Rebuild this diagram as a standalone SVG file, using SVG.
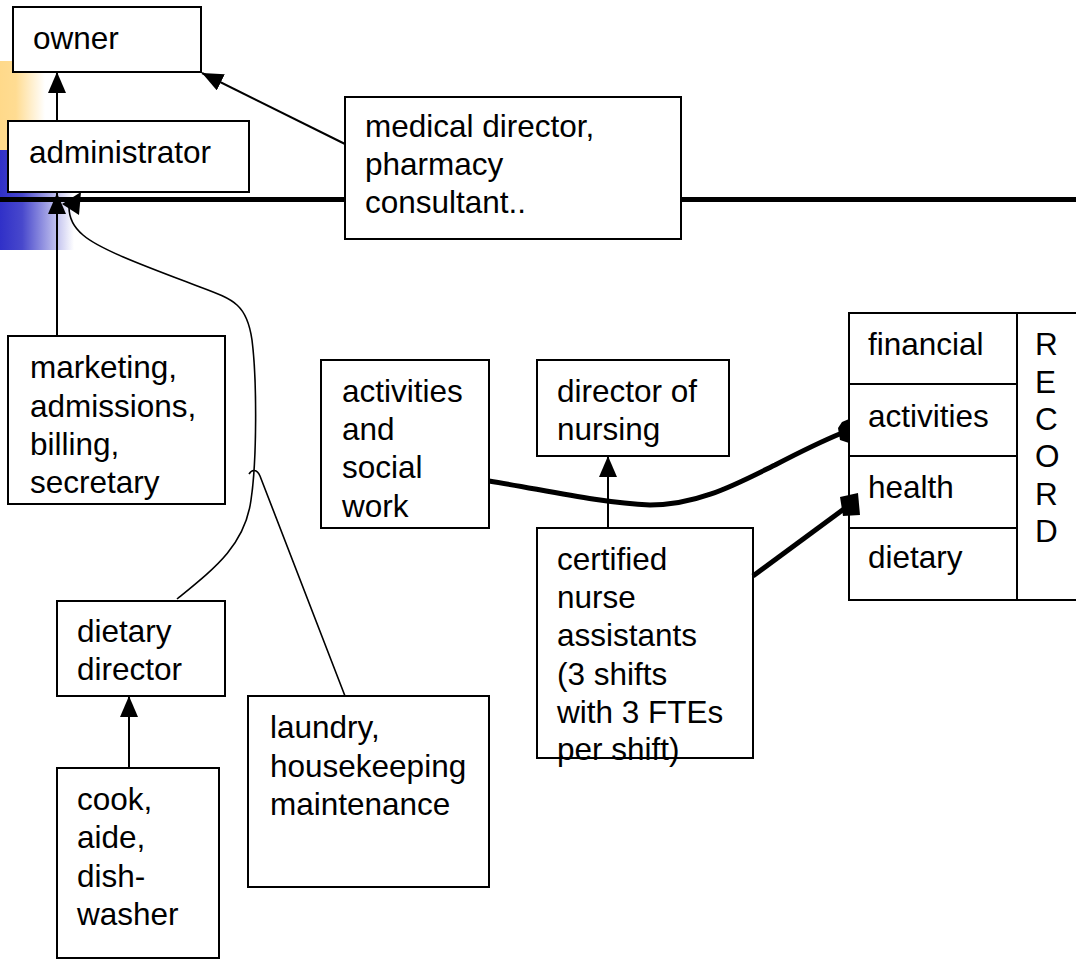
<svg xmlns="http://www.w3.org/2000/svg" width="1076" height="960" viewBox="0 0 1076 960">
<defs>
<linearGradient id="gy" x1="0" y1="0" x2="1" y2="0">
<stop offset="0" stop-color="#FFD98A"/>
<stop offset="0.35" stop-color="#FFDC92"/>
<stop offset="1" stop-color="#FFFFFF"/>
</linearGradient>
<linearGradient id="gb" x1="0" y1="0" x2="1" y2="0">
<stop offset="0" stop-color="#3030C8"/>
<stop offset="0.3" stop-color="#4848CC"/>
<stop offset="1" stop-color="#FFFFFF"/>
</linearGradient>
<marker id="arr" viewBox="0 0 21 18" refX="21" refY="9" markerWidth="21" markerHeight="18" markerUnits="userSpaceOnUse" orient="auto">
<path d="M0,0 L21,9 L0,18 z" fill="#000"/>
</marker>
<style>
.box{fill:#fff;stroke:#000;stroke-width:2}
.t{font-family:"Liberation Sans",Arial,sans-serif;font-size:31.5px;fill:#000}
.c{fill:none;stroke:#000;stroke-width:2}
.cu{fill:none;stroke:#000;stroke-width:1.6}
.th{fill:none;stroke:#000;stroke-width:5}
</style>
</defs>
<rect width="1076" height="960" fill="#fff"/>
<g id="decor">
<rect x="0" y="61" width="45" height="89" fill="url(#gy)"/>
<rect x="0" y="150" width="74" height="100" fill="url(#gb)"/>
<line x1="0" y1="199.5" x2="1076" y2="199.5" stroke="#000" stroke-width="5"/>
</g>
<g id="connectors">
<line class="c" x1="57" y1="121" x2="57" y2="72" marker-end="url(#arr)"/>
<line class="c" x1="345" y1="144" x2="202" y2="73" marker-end="url(#arr)"/>
<line class="c" x1="57" y1="336" x2="57" y2="193" marker-end="url(#arr)"/>
<path class="cu" d="M177,599 C215,568 245,545 251,500 C257,460 257,380 252,340 C247,305 235,300 200,287 C150,268 100,250 83,235 C71,225 69,215 69,207"/>
<polygon points="62,204 81,192 79,215" fill="#000"/>
<path class="cu" d="M249,474 C252,469 257,469 260,476 L345,696"/>
<line class="c" x1="129" y1="768" x2="129" y2="696" marker-end="url(#arr)"/>
<line class="c" x1="608" y1="528" x2="608" y2="456" marker-end="url(#arr)"/>
</g>
<g id="owner"><rect class="box" x="13" y="7" width="188" height="65"/><text class="t" x="33" y="49">owner</text></g>
<g id="administrator"><rect class="box" x="8" y="121" width="241" height="71"/><text class="t" x="29" y="163">administrator</text></g>
<g id="medical"><rect class="box" x="345" y="97" width="336" height="142"/>
<text class="t" x="365" y="137">medical director,</text><text class="t" x="365" y="175">pharmacy</text><text class="t" x="365" y="213">consultant..</text></g>
<g id="marketing"><rect class="box" x="8" y="336" width="217" height="168"/>
<text class="t" x="30" y="378">marketing,</text><text class="t" x="30" y="417">admissions,</text><text class="t" x="30" y="455">billing,</text><text class="t" x="30" y="493">secretary</text></g>
<g id="activities"><rect class="box" x="321" y="360" width="168" height="168"/>
<text class="t" x="342" y="402">activities</text><text class="t" x="342" y="440">and</text><text class="t" x="342" y="478">social</text><text class="t" x="342" y="517">work</text></g>
<g id="director-nursing"><rect class="box" x="537" y="360" width="192" height="96"/>
<text class="t" x="557" y="402">director of</text><text class="t" x="557" y="440">nursing</text></g>
<g id="cna"><rect class="box" x="537" y="528" width="216" height="230"/>
<text class="t" x="557" y="570">certified</text><text class="t" x="557" y="608">nurse</text><text class="t" x="557" y="646">assistants</text><text class="t" x="557" y="685">(3 shifts</text><text class="t" x="557" y="723">with 3 FTEs</text><text class="t" x="557" y="760">per shift)</text></g>
<g id="dietary-director"><rect class="box" x="57" y="601" width="168" height="95"/>
<text class="t" x="77" y="642">dietary</text><text class="t" x="77" y="680">director</text></g>
<g id="laundry"><rect class="box" x="248" y="696" width="241" height="191"/>
<text class="t" x="270" y="738">laundry,</text><text class="t" x="270" y="777">housekeeping</text><text class="t" x="270" y="815">maintenance</text></g>
<g id="cook"><rect class="box" x="57" y="768" width="162" height="190"/>
<text class="t" x="77" y="810">cook,</text><text class="t" x="77" y="848">aide,</text><text class="t" x="77" y="887">dish-</text><text class="t" x="77" y="925">washer</text></g>
<g id="thick-connectors">
<path class="th" d="M489,481 C540,489 600,503 650,505 C700,505 740,482 775,465 C800,452 820,442 842,433"/>
</g>
<g id="record">
<rect class="box" x="849" y="313" width="232" height="287"/>
<line class="c" x1="1017" y1="313" x2="1017" y2="600"/>
<line class="c" x1="849" y1="384" x2="1017" y2="384"/>
<line class="c" x1="849" y1="456" x2="1017" y2="456"/>
<line class="c" x1="849" y1="528" x2="1017" y2="528"/>
<text class="t" x="868" y="355">financial</text>
<text class="t" x="868" y="427">activities</text>
<text class="t" x="868" y="498">health</text>
<text class="t" x="868" y="568">dietary</text>
<text class="t" x="1035" y="355">R</text>
<text class="t" x="1035" y="393">E</text>
<text class="t" x="1035" y="430">C</text>
<text class="t" x="1035" y="467">O</text>
<text class="t" x="1035" y="505">R</text>
<text class="t" x="1035" y="542">D</text>
</g>
<g id="thick-connectors-2">
<polygon points="838,428 842,422 849,419 849,443 840,440" fill="#000"/>
<line class="th" x1="753" y1="576" x2="848" y2="506"/>
<polygon points="840,497 858,493 860,515 843,516" fill="#000"/>
</g>
</svg>
